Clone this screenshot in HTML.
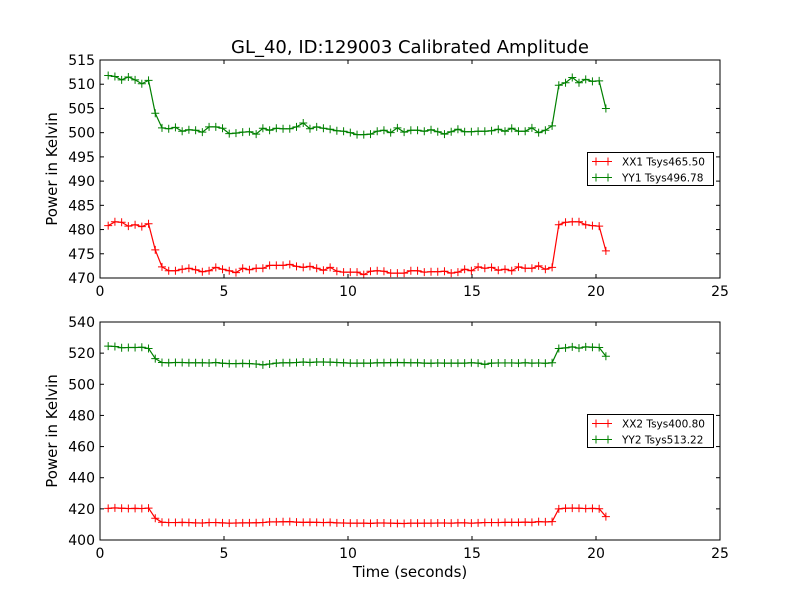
<!DOCTYPE html>
<html><head><meta charset="utf-8"><style>
html,body{margin:0;padding:0;background:#fff;}
svg{display:block;font-family:"DejaVu Sans","Liberation Sans",sans-serif;}
</style></head><body>
<svg id="chart" width="800" height="600" viewBox="0 0 800 600" xmlns="http://www.w3.org/2000/svg">
<rect width="800" height="600" fill="#fff"/>
<text x="410" y="53" font-size="18" text-anchor="middle">GL_40, ID:129003 Calibrated Amplitude</text>
<text x="410" y="577" font-size="15" text-anchor="middle">Time (seconds)</text>
</svg>
<script>
const t0 = 0.33, dt = 0.2712;
const xTicks = [0,5,10,15,20,25];
const topYTicks = [470,475,480,485,490,495,500,505,510,515];
const botYTicks = [400,420,440,460,480,500,520,540];
const xx1 = [480.8,481.6,481.5,480.7,481,480.6,481.2,475.8,472.3,471.5,471.5,471.8,472,471.7,471.3,471.5,472.2,471.8,471.5,471.1,472,471.7,472,472,472.6,472.6,472.6,472.8,472.4,472.2,472.4,472,471.6,472.2,471.4,471.2,471.2,471.2,470.7,471.4,471.5,471.4,471,471,471,471.5,471.5,471.2,471.3,471.3,471.4,471,471.2,471.8,471.5,472.3,472,472.2,471.6,471.8,471.5,472.3,472,472,472.5,471.8,472.2,481,481.5,481.6,481.6,481,480.8,480.7,475.6];
const yy1 = [511.8,511.6,510.9,511.5,510.9,510.1,510.8,504,501,500.8,501.1,500.3,500.6,500.5,500.1,501.2,501.2,500.9,499.8,499.9,500.1,500.2,499.7,500.9,500.5,500.9,500.8,500.8,501.2,502,500.8,501.2,500.9,500.7,500.4,500.3,500,499.6,499.6,499.7,500.3,500.5,500,501,500.1,500.5,500.5,500.3,500.6,500.2,499.7,500.2,500.7,500.2,500.2,500.3,500.3,500.4,500.7,500.3,500.9,500.3,500.3,501,500,500.5,501.4,509.8,510.3,511.4,510.3,511,510.6,510.7,505];
const xx2 = [420.3,420.6,420.4,420.2,420.3,420.2,420.5,414,411.4,411.2,411.2,411.3,411.2,411,410.9,411.2,411.2,411,410.8,410.9,411,411,411.1,411.2,411.6,411.6,411.7,411.8,411.5,411.3,411.4,411.3,411.2,411.3,411,410.9,410.8,410.8,410.8,410.7,410.9,410.9,410.8,410.7,410.6,410.8,410.8,410.8,410.8,410.9,410.9,410.8,411,411,410.8,411,411.2,411.2,411.2,411.3,411.3,411.3,411.5,411.3,411.8,411.6,411.8,420,420.4,420.5,420.4,420.2,420.3,420.1,415];
const yy2 = [524.5,524.3,523.5,523.6,523.6,523.8,523,516.5,514,513.8,514,514,513.8,513.8,513.8,513.7,514,513.5,513.3,513.3,513.4,513.3,513,512.5,513,513.6,513.8,513.8,514,514.3,514,514.3,514.3,514.2,514,513.8,513.6,513.6,513.6,513.6,513.8,513.8,513.9,514,513.9,513.8,513.8,513.6,513.5,513.7,513.6,513.6,513.6,513.6,513.8,513.6,512.8,513.6,513.7,513.7,513.7,513.6,513.8,513.6,513.7,513.5,513.8,523,523.4,524,523.2,524,523.8,523.6,518];
const legendTop = ["XX1 Tsys465.50","YY1 Tsys496.78"];
const legendBot = ["XX2 Tsys400.80","YY2 Tsys513.22"];

const NS="http://www.w3.org/2000/svg";
const svg=document.getElementById('chart');
function mk(tag,attrs,parent){const e=document.createElementNS(NS,tag);for(const k in attrs)e.setAttribute(k,attrs[k]);(parent||svg).appendChild(e);return e;}

function panel(name,top,bottom,ymin,ymax,yTicks,series,labels,legY){
  const L=100,R=720;
  const g=mk('g',{});
  
  
  const xs=v=>L+(v-0)/25*(R-L);
  const ys=v=>bottom-(v-ymin)/(ymax-ymin)*(bottom-top);
  xTicks.forEach(v=>{
    const x=xs(v);
    const a=mk('line',{x1:x,x2:x,y1:bottom,y2:bottom-4,stroke:'#000'},g);
    
    mk('line',{x1:x,x2:x,y1:top,y2:top+4,stroke:'#000'},g);
    const t=mk('text',{x:x,y:bottom+18,'font-size':14,'text-anchor':'middle'},g);
    
    t.textContent=v;
  });
  yTicks.forEach(v=>{
    const y=ys(v);
    mk('line',{x1:L,x2:L+4,y1:y,y2:y,stroke:'#000'},g);
    mk('line',{x1:R,x2:R-4,y1:y,y2:y,stroke:'#000'},g);
    const t=mk('text',{x:L-5,y:y+5,'font-size':14,'text-anchor':'end'},g);
    
    t.textContent=v;
  });
  const yl=mk('text',{x:0,y:0,'font-size':15,'text-anchor':'middle',transform:`translate(57,${(top+bottom)/2}) rotate(-90)`},g);
  
  yl.textContent='Power in Kelvin';
  series.forEach((s,si)=>{
    const pts=s.data.map((v,i)=>[xs(t0+i*dt),ys(v)]);
    const p=mk('polyline',{points:pts.map(q=>q.join(',')).join(' '),fill:'none',stroke:s.color,'stroke-width':1.2},g);
    
    pts.forEach(q=>{
      const m=mk('path',{d:`M${q[0]-4},${q[1]}h8M${q[0]},${q[1]-4}v8`,stroke:s.color,'stroke-width':1},g);
      
    });
  });
  const fr=mk('rect',{x:L,y:top,width:R-L,height:bottom-top,fill:'none',stroke:'#000','stroke-width':1},g);
  
  const lg=mk('g',{},g);
  
  mk('rect',{x:587.5,y:legY,width:126,height:33,fill:'#fff',stroke:'#000'},lg);
  series.forEach((s,si)=>{
    const y=legY+9+si*16;
    const e=mk('g',{},lg);
    
    mk('path',{d:`M592,${y}h20M596,${y-4}v8M608,${y-4}v8`,stroke:s.color,'stroke-width':1},e);
    const t=mk('text',{x:622,y:y+4,'font-size':10.5},e);
    t.textContent=labels[si];
  });
}
panel('top-panel',60,278,470,515,topYTicks,[{name:'xx1',data:xx1,color:'#ff0000'},{name:'yy1',data:yy1,color:'#008000'}],legendTop,152.5);
panel('bottom-panel',322,540,400,540,botYTicks,[{name:'xx2',data:xx2,color:'#ff0000'},{name:'yy2',data:yy2,color:'#008000'}],legendBot,414.5);
</script>
</body></html>
